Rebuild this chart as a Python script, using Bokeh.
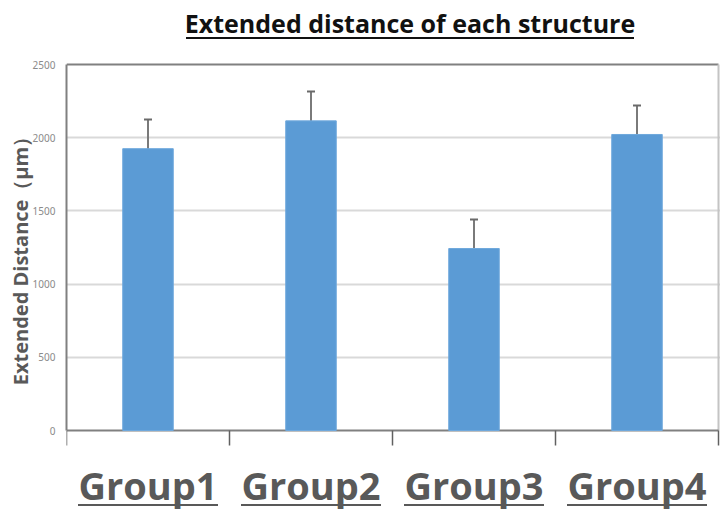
from bokeh.plotting import figure
from bokeh.models import Range1d, FixedTicker, ColumnDataSource, Whisker, TeeHead
from bokeh.core.properties import value
from bokeh.embed import file_html
from bokeh.resources import INLINE

# ---- data ----
groups = ["Group1", "Group2", "Group3", "Group4"]
means = [1925, 2115, 1243, 2022]
errors = [200, 200, 198, 198]
y_ticks = [0, 500, 1000, 1500, 2000, 2500]
y_max = 2500
title_text = "Extended distance of each structure"
y_label = "Extended Distance（μm）"

# ---- layout (figure pixels) ----
FIG_W, FIG_H = 720, 511
FRAME_LEFT = 66
PLOT_RIGHT = 718   # pixel column of the right border
PLOT_TOP = 64      # pixel row of y = y_max
PLOT_BOTTOM = 430  # pixel row of y = 0
scale = (PLOT_BOTTOM - PLOT_TOP) / y_max
n = len(groups)
cat_px = (PLOT_RIGHT - FRAME_LEFT) / n


def dy(py):
    return (PLOT_BOTTOM - py) / scale


def dx(px):
    return px / cat_px


centers = [i + 0.5 for i in range(n)]
upper = [m + e for m, e in zip(means, errors)]
lower = [m - e for m, e in zip(means, errors)]
src = ColumnDataSource(dict(x=centers, top=means, upper=upper, lower=lower, label=groups))

p = figure(width=FIG_W, height=FIG_H,
           x_range=Range1d(0, dx(FIG_W - FRAME_LEFT)), y_range=Range1d(dy(FIG_H), dy(0)),
           output_backend="svg", toolbar_location=None, x_axis_location=None,
           min_border_left=FRAME_LEFT, min_border_right=0,
           min_border_top=0, min_border_bottom=0)
p.outline_line_color = None
p.xgrid.visible = False
p.background_fill_color = "white"

# y axis
p.yaxis.ticker = FixedTicker(ticks=y_ticks)
p.yaxis.bounds = (0, y_max)
p.yaxis.major_tick_out = 0
p.yaxis.major_tick_in = 0
p.yaxis.minor_tick_out = 0
p.yaxis.minor_tick_in = 0
p.yaxis.axis_line_color = "#808080"
p.yaxis.axis_line_width = 2
p.yaxis.major_label_text_font = "Noto Sans"
p.yaxis.major_label_text_font_size = "10px"
p.yaxis.major_label_text_color = "#8a8a8a"
p.yaxis.major_label_standoff = 11
p.yaxis.axis_label = y_label
p.yaxis.axis_label_text_font = "Open Sans"
p.yaxis.axis_label_text_font_size = "20px"
p.yaxis.axis_label_text_font_style = "bold"
p.yaxis.axis_label_text_color = "#595959"
p.yaxis.axis_label_standoff = -4

p.ygrid.ticker = FixedTicker(ticks=y_ticks[1:-1])
p.ygrid.grid_line_color = "#d9d9d9"
p.ygrid.grid_line_width = 2

# frame lines
p.segment(x0=[0], y0=[y_max], x1=[n], y1=[y_max], line_color="#808080", line_width=2)
p.segment(x0=[n], y0=[0], x1=[n], y1=[y_max], line_color="#c4c4c4", line_width=2)
p.segment(x0=[0], y0=[0], x1=[n], y1=[0], line_color="#808080", line_width=2)
tick_x = list(range(n + 1))
p.segment(x0=tick_x, y0=[0] * (n + 1), x1=tick_x, y1=[dy(PLOT_BOTTOM + 15)] * (n + 1),
          line_color="#606060", line_width=1.5)

# bars
p.vbar(x="x", top="top", bottom=0, width=0.31, source=src,
       fill_color="#5B9BD5", line_color="#6fa8dc", line_width=1)

# error bars
w = Whisker(source=src, base="x", upper="upper", lower="lower",
            line_color="#7a7a7a", line_width=2,
            upper_head=TeeHead(size=8, line_color="#6a6a6a", line_width=2),
            lower_head=TeeHead(size=8, line_color="#6a6a6a", line_width=2))
p.add_layout(w)

# category labels (underlined)
p.text(x="x", y=dy(484), text="label", source=src,
       text_font=value("Open Sans"), text_font_style="bold", text_font_size="38px",
       text_color="#595959", text_align="center", text_baseline="alphabetic")
half = dx(70)
p.segment(x0=[c - half for c in centers], y0=[dy(504.5)] * n,
          x1=[c + half for c in centers], y1=[dy(504.5)] * n,
          line_color="#595959", line_width=2)

# title (underlined)
tcx = dx(409.5 - FRAME_LEFT)
p.text(x=[tcx], y=[dy(22)], text=[title_text],
       text_font=value("Open Sans"), text_font_style="bold", text_font_size="25px",
       text_color="#111111", text_align="center", text_baseline="alphabetic")
thalf = dx(224)
p.segment(x0=[tcx - thalf], y0=[dy(37.5)], x1=[tcx + thalf], y1=[dy(37.5)],
          line_color="#111111", line_width=2)

open("out.html", "w").write(file_html(p, INLINE))
